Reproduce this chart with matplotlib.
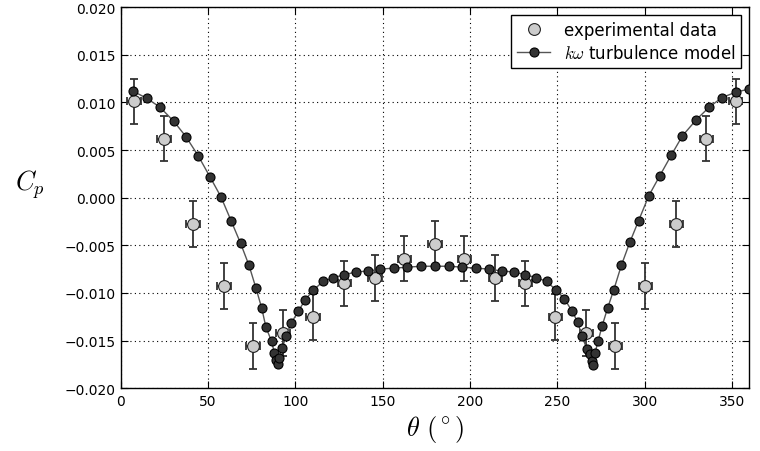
import matplotlib
matplotlib.use('Agg')
import matplotlib.pyplot as plt

# Experimental pressure coefficient around the cylinder
exp_theta = [7.5, 24.7, 41.3, 59.1, 75.7, 92.9, 110.1, 127.9, 145.6, 162.3, 180.0,
             196.7, 214.4, 231.7, 248.9, 266.6, 283.3, 300.5, 318.2, 335.4, 352.1]
exp_cp = [0.0101, 0.0062, -0.0028, -0.0093, -0.0156, -0.0142, -0.0125, -0.0090,
          -0.0084, -0.0064, -0.0049, -0.0064, -0.0084, -0.0090, -0.0125, -0.0142,
          -0.0156, -0.0093, -0.0028, 0.0062, 0.0101]
exp_cp_err = [0.0024] * len(exp_theta)
exp_theta_err = [3.8] * len(exp_theta)

# k-omega model
model_theta = [6.7, 14.7, 22.4, 30.4, 37.3, 44.3, 51.0, 57.3, 63.1, 68.6, 73.4, 77.4,
               80.7, 83.1, 86.4, 87.9, 88.9, 89.8, 90.8, 92.5, 94.6, 97.5, 101.7,
               105.7, 110.3, 115.8, 121.7, 127.9, 134.7, 141.6, 148.7, 156.5, 164.0,
               172.0, 180.0,
               188.0, 195.6, 203.5, 210.8, 218.2, 225.1, 231.7, 238.0, 243.9, 249.3,
               254.0, 258.4, 261.8, 264.0, 267.0, 268.5, 269.9, 270.5, 271.6, 273.3,
               275.6, 278.8, 282.3, 286.7, 291.5, 296.6, 302.4, 308.7, 315.4, 321.7,
               329.7, 337.0, 344.2, 352.6, 360.0]
model_cp = [0.0112, 0.01045, 0.0095, 0.0080, 0.0064, 0.0044, 0.0022, 0.0001, -0.0024,
            -0.0048, -0.0071, -0.0095, -0.0116, -0.0136, -0.0151, -0.0163, -0.0170,
            -0.0175, -0.0168, -0.0158, -0.0145, -0.0132, -0.0119, -0.0107, -0.0097,
            -0.0088, -0.0084, -0.0081, -0.0078, -0.0077, -0.0075, -0.0074, -0.0073,
            -0.0072, -0.0072,
            -0.0072, -0.0073, -0.0074, -0.0075, -0.0077, -0.0078, -0.0081, -0.0084,
            -0.0088, -0.0097, -0.0106, -0.0119, -0.0131, -0.0145, -0.0159, -0.0164,
            -0.0171, -0.0176, -0.0163, -0.0151, -0.0135, -0.0116, -0.0097, -0.0071,
            -0.0047, -0.0024, 0.0002, 0.0023, 0.0045, 0.0065, 0.0082, 0.0095, 0.0105,
            0.0111, 0.0114]

x_ticks = [0, 50, 100, 150, 200, 250, 300, 350]
y_ticks = [-0.020, -0.015, -0.010, -0.005, 0.000, 0.005, 0.010, 0.015, 0.020]

plt.rcParams['font.family'] = ['DejaVu Sans']
plt.rcParams['mathtext.fontset'] = 'cm'
plt.rcParams['xtick.direction'] = 'in'
plt.rcParams['ytick.direction'] = 'in'

fig = plt.figure(figsize=(7.6, 4.52), dpi=100)
ax = fig.add_axes([0.159, 0.139, 0.827, 0.843])

# experimental points with error bars (drawn under the model)
ax.errorbar(exp_theta, exp_cp, yerr=exp_cp_err, xerr=exp_theta_err, fmt='none',
            ecolor='#333333', elinewidth=1.3, capsize=3, capthick=1.3, zorder=2)
ax.plot(exp_theta, exp_cp, 'o', ms=8.5, mfc='#cccccc', mec='#222222', mew=0.8,
        label='experimental data', zorder=3)

# model curve on top
ax.plot(model_theta, model_cp, '-o', color='#555555', lw=1.0, ms=6.5,
        mfc='#333333', mec='black', mew=0.8, label=r'$k\omega$ turbulence model',
        zorder=4)

ax.set_xlim(0, 360)
ax.set_ylim(-0.020, 0.020)
ax.set_xticks(x_ticks)
ax.set_yticks(y_ticks)
ax.set_yticklabels(['%.3f' % v if v >= 0 else '\u2212%.3f' % -v for v in y_ticks])
ax.tick_params(top=True, right=True, length=5, width=0.8, labelsize=10, pad=4)
ax.grid(True, color='black', linestyle=(0, (1, 3)), linewidth=0.8)
for s in ax.spines.values():
    s.set_linewidth(1.0)

ax.set_xlabel(r'$\theta\ (^\circ)$', fontsize=19, labelpad=4)
ax.set_ylabel(r'$C_p$', fontsize=19, rotation=0)
ax.yaxis.set_label_coords(-0.145, 0.494)

leg = ax.legend(loc='upper right', numpoints=1, fontsize=12,
                fancybox=False, framealpha=1, edgecolor='black',
                borderaxespad=0.5, handlelength=2.0, borderpad=0.35,
                labelspacing=0.3)
leg.get_frame().set_linewidth(1.0)

fig.savefig('out.png', dpi=100)
